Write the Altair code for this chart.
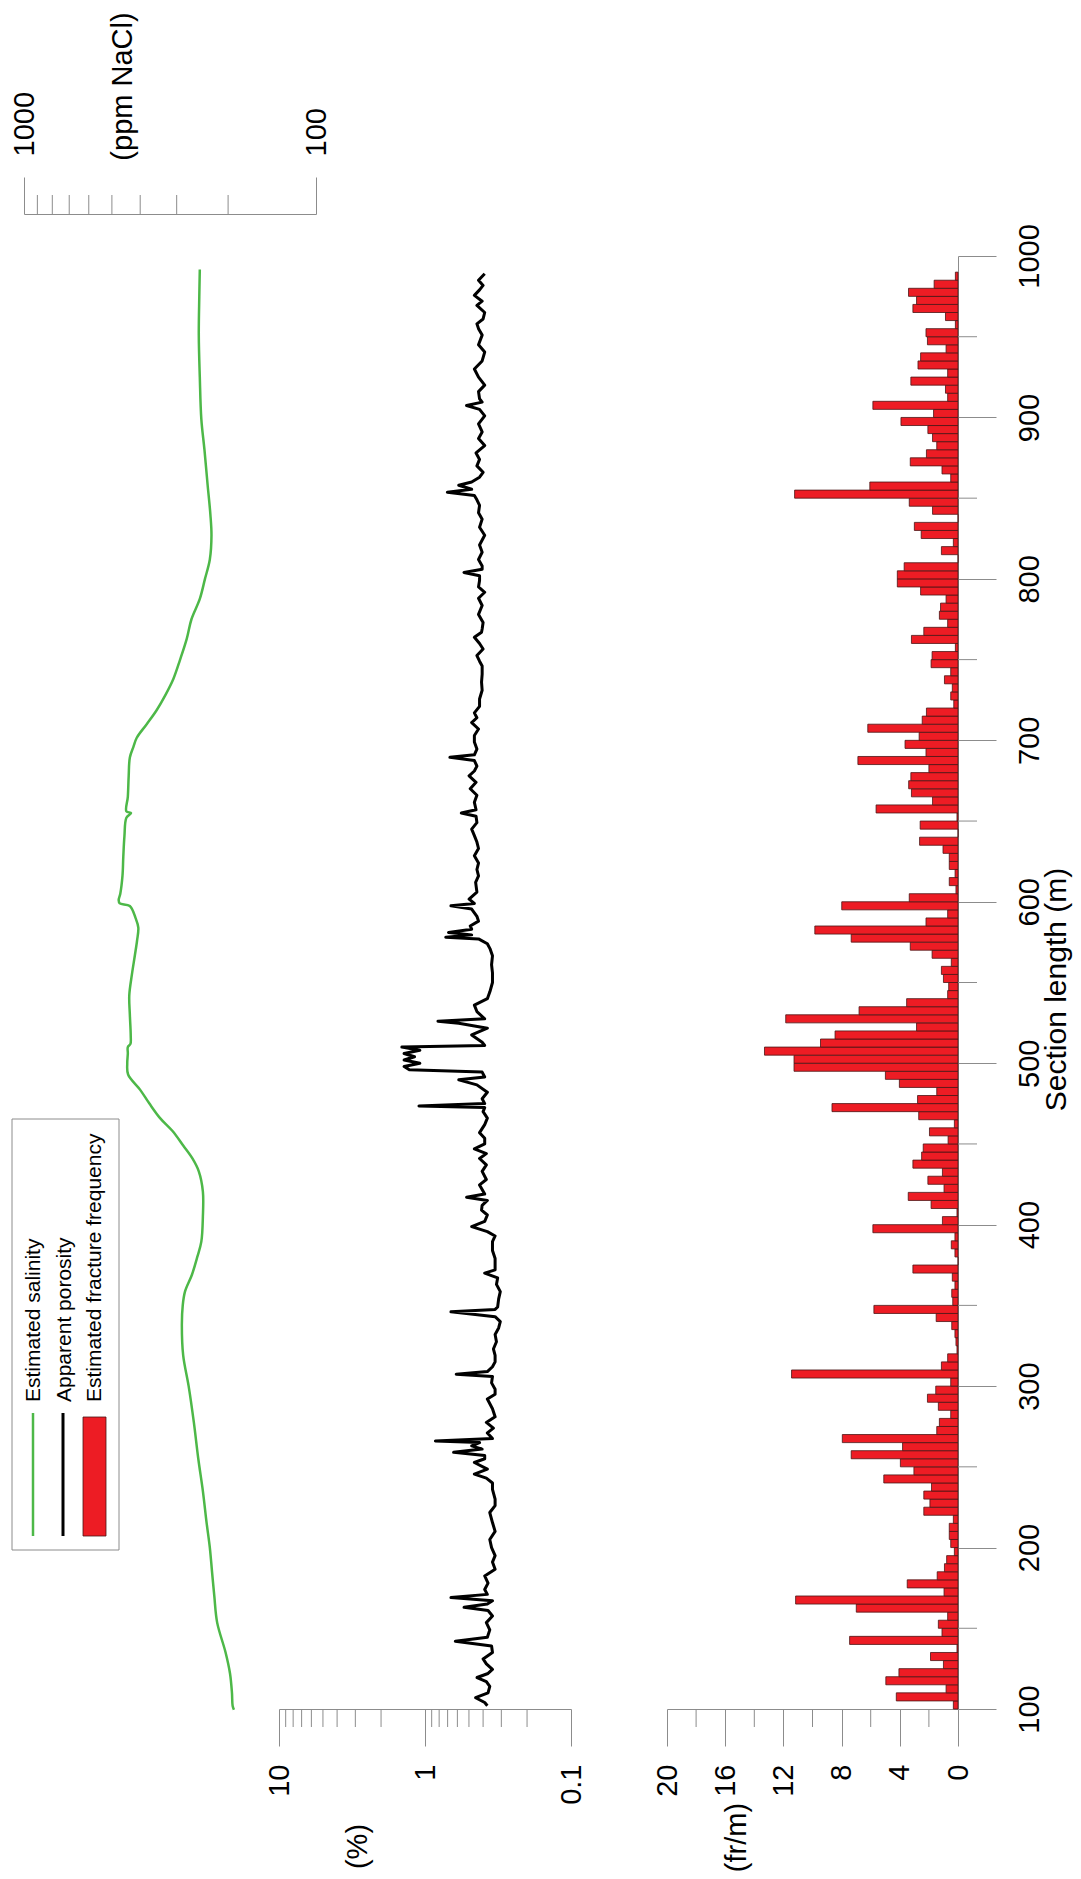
import altair as alt
import pandas as pd

# ---------------- data ----------------
# Estimated fracture frequency (fr/m), 5 m bins starting at 100 m
frac_bin_start = list(range(100, 990, 5))
frac_values = [
    0.32, 4.24, 0.82, 4.96, 4.06, 1.0, 1.89, 0.07, 7.45, 1.1, 1.35, 0.71, 6.99, 11.16, 0.96, 3.49, 1.43, 0.93, 0.78, 0.25,
    0.5, 0.6, 0.6, 0.32, 2.35, 1.93, 2.35, 1.82, 5.1, 3.03, 3.96, 7.34, 3.81, 7.95, 1.46, 1.28, 0.5, 1.35, 2.1, 1.53,
    0.5, 11.44, 1.14, 0.71, 0.07, 0.14, 0.21, 0.43, 1.5, 5.78, 0.36, 0.43, 0.21, 0.39, 3.1, 0.0, 0.21, 0.46, 0.21, 5.85,
    1.07, 0.07, 1.85, 3.42, 0.96, 2.07, 1.07, 3.1, 2.5, 2.39, 0.68, 1.96, 0.25, 2.7, 8.66, 2.78, 1.46, 4.03, 4.99, 11.27,
    11.27, 13.3, 9.45, 8.45, 2.85, 11.84, 6.8, 3.53, 0.71, 0.64, 1.0, 1.14, 0.46, 1.78, 3.28, 7.34, 9.84, 2.2, 0.71, 7.99,
    3.35, 0.14, 0.6, 0.2, 0.6, 0.6, 1.03, 2.64, 0.0, 2.6, 0.07, 5.63, 1.75, 3.2, 3.39, 3.24, 2.0, 6.88, 2.2, 3.64,
    2.67, 6.2, 2.46, 2.17, 0.29, 0.5, 0.39, 0.93, 0.5, 1.85, 1.78, 0.18, 3.2, 2.35, 0.71, 1.28, 1.2, 0.82, 2.57, 4.17,
    4.17, 3.7, 0.0, 1.14, 0.32, 2.53, 3.0, 0.0, 1.75, 3.35, 11.23, 6.06, 0.5, 1.1, 3.28, 2.17, 1.46, 1.75, 2.07, 3.92,
    1.68, 5.85, 0.71, 0.86, 3.24, 0.71, 2.75, 2.57, 0.82, 2.1, 2.2, 0.18, 0.86, 3.1, 2.85, 3.4, 1.64, 0.18,
]
frac_bin_width = 5

# Apparent porosity (%)
por_s = [102, 104, 107, 110, 114, 117, 119.5, 122, 124.5, 128, 131, 135, 139, 142, 144.5, 149, 153.5, 157.6, 161, 163,
         165, 167, 169, 171, 174, 178, 182.4, 186.6, 191, 195, 200, 205, 210, 215.5, 221.7, 226, 230, 236, 240, 243,
         245.5, 248.6, 252.7, 255, 257, 259, 261, 263, 265, 266, 267.5, 271, 274, 277.5, 281, 286, 292, 295, 298, 302,
         306, 307.4, 309, 312, 315, 319, 323, 327.5, 332, 336, 340, 343, 346, 347.5, 349, 354, 358.5, 363, 367, 370,
         372, 379, 384, 389.5, 393, 395.7, 398.8, 402, 406, 409, 412, 415, 417, 419, 424.6, 428, 433, 437, 441, 444,
         447, 450, 453.5, 457, 462, 466, 470, 472.5, 473.5, 475, 478, 482, 486.6, 489.7, 491.5, 494.5, 496, 498, 500, 502,
         504, 506, 508, 510, 511, 513, 517.5, 521.7, 524.8, 526, 527.5, 532, 536, 540, 544.4, 550, 556, 561, 566.5, 571,
         574, 577, 578, 579.5, 581, 583, 585, 588, 591, 595.5, 597.5, 599, 601.6, 606, 612, 616, 620, 624, 628.5, 633,
         637, 641, 645, 649, 653, 655, 657, 661.6, 666, 670, 674, 678, 681, 684, 687.5, 689.5, 691, 694.6, 699, 703,
         707, 711, 714, 717, 721, 725.6, 731, 736, 741, 746, 749, 752.5, 756.6, 760, 763.8, 767, 769, 773, 778, 783.5,
         788, 791.7, 795, 799, 802, 804, 806, 808, 812, 816.5, 821, 827, 832, 837, 841, 845.5, 849, 851.7, 853.7, 855.5,
         858, 860, 863, 866, 870, 874, 878, 882.6, 887, 891, 896, 901, 905, 907.4, 909.5, 911.6, 916, 920, 925, 930,
         935, 940.5, 945, 951, 955, 958, 961, 965, 969.4, 972, 975.6, 979, 981.8, 985, 989]
por_v = [0.374, 0.39, 0.45, 0.37, 0.36, 0.38, 0.44, 0.37, 0.345, 0.38, 0.40, 0.345, 0.35, 0.62, 0.374, 0.36, 0.38, 0.345, 0.37, 0.54,
         0.374, 0.345, 0.664, 0.374, 0.39, 0.37, 0.39, 0.331, 0.345, 0.331, 0.35, 0.36, 0.331, 0.345, 0.36, 0.331, 0.331, 0.345, 0.345, 0.38,
         0.459, 0.374, 0.459, 0.39, 0.39, 0.637, 0.406, 0.479, 0.423, 0.849, 0.345, 0.374, 0.34, 0.38, 0.331, 0.345, 0.374, 0.331, 0.331, 0.35,
         0.345, 0.611, 0.374, 0.345, 0.331, 0.331, 0.34, 0.324, 0.331, 0.313, 0.305, 0.331, 0.664, 0.331, 0.318, 0.313, 0.305, 0.324, 0.318, 0.39,
         0.331, 0.331, 0.345, 0.345, 0.331, 0.374, 0.479, 0.39, 0.374, 0.41, 0.406, 0.374, 0.519, 0.39, 0.423, 0.38, 0.406, 0.38, 0.423, 0.38,
         0.459, 0.39, 0.39, 0.423, 0.39, 0.374, 0.40, 0.39, 1.10, 0.39, 0.406, 0.374, 0.441, 0.587, 0.39, 0.406, 1.28, 1.39, 1.085, 1.39,
         1.18, 1.39, 1.085, 1.44, 0.39, 0.406, 0.479, 0.374, 0.587, 0.815, 0.39, 0.441, 0.459, 0.374, 0.359, 0.345, 0.345, 0.35, 0.345, 0.359,
         0.374, 0.43, 0.721, 0.479, 0.69, 0.479, 0.49, 0.43, 0.441, 0.479, 0.664, 0.459, 0.499, 0.441, 0.45, 0.43, 0.441, 0.43, 0.459, 0.43,
         0.441, 0.459, 0.479, 0.441, 0.447, 0.564, 0.447, 0.459, 0.441, 0.49, 0.447, 0.499, 0.459, 0.441, 0.459, 0.675, 0.459, 0.441, 0.459, 0.459,
         0.43, 0.479, 0.441, 0.459, 0.423, 0.423, 0.406, 0.41, 0.406, 0.406, 0.423, 0.441, 0.40, 0.423, 0.459, 0.41, 0.406, 0.40, 0.43, 0.406,
         0.43, 0.39, 0.43, 0.423, 0.423, 0.541, 0.406, 0.406, 0.43, 0.406, 0.423, 0.39, 0.423, 0.406, 0.43, 0.423, 0.441, 0.459, 0.703, 0.479,
         0.587, 0.479, 0.423, 0.40, 0.441, 0.423, 0.447, 0.39, 0.43, 0.406, 0.43, 0.39, 0.423, 0.519, 0.406, 0.423, 0.43, 0.39, 0.43, 0.459,
         0.406, 0.39, 0.43, 0.406, 0.43, 0.441, 0.40, 0.39, 0.441, 0.406, 0.459, 0.423, 0.40, 0.43, 0.39]

# Estimated salinity (ppm NaCl)
sal_s = [99.5, 102, 110, 122, 135, 153.5, 170, 185, 200, 215.5, 235, 255, 277.5, 300, 319, 338, 350, 358.5, 369, 380,
         389.5, 405, 420.5, 433, 441, 449, 458, 466, 475, 483.5, 493, 500, 506, 510, 512, 517, 530, 542, 555, 567,
         576, 584, 590, 597.4, 599, 601, 605, 616, 628, 640.5, 652, 655, 656, 665, 678, 689.4, 696, 701.6, 710, 718.8,
         728, 738, 750, 763, 775, 787.6, 800, 812, 827, 840, 858, 880, 899, 925, 951, 975, 991.7]
sal_v = [191, 193, 194, 197, 204, 218, 223, 227, 231, 237, 244, 253, 262, 273, 285, 288, 286, 281, 266, 255,
         247, 244, 244, 252, 265, 285, 310, 342, 372, 400, 440, 443, 441, 441, 432, 431, 434, 436, 427, 417,
         410, 406, 415, 434, 470, 474, 468, 460, 457, 453, 446, 430, 446, 441, 438, 434, 422, 411, 380, 351,
         328, 308, 292, 277, 267, 250, 240, 231, 228, 230, 235, 241, 247, 250, 252, 251, 250]

# axis ticks
sec_major = [100, 200, 300, 400, 500, 600, 700, 800, 900, 1000]
sec_minor = [150, 250, 350, 450, 550, 650, 750, 850, 950]
frac_major = [0, 4, 8, 12, 16, 20]
frac_minor = [2, 6, 10, 14, 18]
por_major = [0.1, 1, 10]
por_minor = [0.2, 0.3, 0.4, 0.5, 0.6, 0.7, 0.8, 0.9, 2, 3, 4, 5, 6, 7, 8, 9]
sal_major = [100, 1000]
sal_minor = [200, 300, 400, 500, 600, 700, 800, 900]

legend_labels = ["Estimated salinity", "Apparent porosity", "Estimated fracture frequency"]

# ---------------- styling ----------------
W, H = 934, 1453
GRAY = "#8c8c8c"
GREEN = "#4DB848"
RED = "#ED1C24"
FONT = "Liberation Sans"

frac_df = pd.DataFrame({"s0": frac_bin_start,
                        "s1": [b + frac_bin_width for b in frac_bin_start],
                        "f": frac_values})
por_df = pd.DataFrame({"s": por_s, "p": por_v})
sal_df = pd.DataFrame({"s": sal_s, "c": sal_v})

sec_scale = alt.Scale(domain=[100, 1000], nice=False, zero=False)
sec_axis = alt.Axis(orient="right", values=sec_major, tickSize=38, labelAngle=270,
                    labelAlign="center", labelBaseline="top", labelPadding=19,
                    labelFontSize=29, format="d", labelFlush=False, labelOverlap=False,
                    grid=False, title="Section length (m)", titleAngle=270, titleX=107,
                    titleY=733, titleAlign="center", titleBaseline="alphabetic",
                    titleFontSize=30, titleFontWeight="normal")


def Y(field):
    return alt.Y(field, type="quantitative", scale=sec_scale, axis=sec_axis)


# fracture frequency
frac_scale = alt.Scale(domain=[0, 20], range=[934, 643], nice=False, zero=False)
frac_axis = alt.Axis(orient="bottom", values=frac_major, tickSize=37, labelAngle=270,
                     labelAlign="right", labelBaseline="middle", labelPadding=18,
                     labelFontSize=29, format="d", labelFlush=False, labelOverlap=False,
                     grid=False, title="(fr/m)", titleAngle=270, titleX=721, titleY=128,
                     titleAlign="center", titleBaseline="alphabetic", titleFontSize=29,
                     titleFontWeight="normal")
bars = alt.Chart(frac_df).mark_rect(fill=RED, stroke="#4a1515", strokeWidth=0.8).encode(
    x=alt.X("f:Q", scale=frac_scale, axis=frac_axis),
    x2=alt.X2(datum=0),
    y=Y("s0"),
    y2=alt.Y2("s1"),
)
frac_minor_rules = alt.Chart(pd.DataFrame({"t": frac_minor})).mark_rule(color=GRAY, strokeWidth=1).encode(
    x=alt.X("t:Q", scale=frac_scale, axis=frac_axis),
    y=alt.value(H), y2=alt.value(H + 18),
)
frac_group = alt.layer(bars, frac_minor_rules)

# porosity
por_scale = alt.Scale(type="log", domain=[0.1, 10], range=[547, 255], nice=False)
por_axis = alt.Axis(orient="bottom", values=por_major, tickSize=37, labelAngle=270,
                    labelAlign="right", labelBaseline="middle", labelPadding=18,
                    labelFontSize=29, format="~g", labelFlush=False, labelOverlap=False,
                    grid=False, title="(%)", titleAngle=270, titleX=342, titleY=137,
                    titleAlign="center", titleBaseline="alphabetic", titleFontSize=29,
                    titleFontWeight="normal")
por_line = alt.Chart(por_df).mark_line(color="black", strokeWidth=3, strokeJoin="round").encode(
    x=alt.X("p:Q", scale=por_scale, axis=por_axis),
    y=Y("s"),
    order="s:Q",
)
por_minor_rules = alt.Chart(pd.DataFrame({"t": por_minor})).mark_rule(color=GRAY, strokeWidth=1).encode(
    x=alt.X("t:Q", scale=por_scale, axis=por_axis),
    y=alt.value(H), y2=alt.value(H + 18),
)
por_group = alt.layer(por_line, por_minor_rules)

# salinity
sal_scale = alt.Scale(type="log", domain=[100, 1000], range=[292, 0], nice=False)
sal_axis = alt.Axis(orient="top", offset=42, values=sal_major, tickSize=37, labelAngle=270,
                    labelAlign="left", labelBaseline="middle", labelPadding=21,
                    labelFontSize=29, format="d", labelFlush=False, labelOverlap=False,
                    grid=False, title="(ppm NaCl)", titleAngle=270, titleX=107, titleY=-128,
                    titleAlign="center", titleBaseline="alphabetic", titleFontSize=29,
                    titleFontWeight="normal")
sal_line = alt.Chart(sal_df).mark_line(color=GREEN, strokeWidth=2.5, interpolate="catmull-rom").encode(
    x=alt.X("c:Q", scale=sal_scale, axis=sal_axis),
    y=Y("s"),
    order="s:Q",
)
sal_minor_rules = alt.Chart(pd.DataFrame({"t": sal_minor})).mark_rule(color=GRAY, strokeWidth=1).encode(
    x=alt.X("t:Q", scale=sal_scale, axis=sal_axis),
    y=alt.value(-42), y2=alt.value(-61),
)
sal_group = alt.layer(sal_line, sal_minor_rules)

# section-length minor ticks
sec_minor_rules = alt.Chart(pd.DataFrame({"m": sec_minor})).mark_rule(color=GRAY, strokeWidth=1).encode(
    y=Y("m"), x=alt.value(W), x2=alt.value(W + 19),
)

# legend (drawn with marks, rotated like the rest of the figure)
one = pd.DataFrame({"k": [0]})
legend_box = alt.Chart(one).mark_rect(fill="white", stroke=GRAY, strokeWidth=1).encode(
    x=alt.value(-12), x2=alt.value(95), y=alt.value(863), y2=alt.value(1294))
leg_green = alt.Chart(one).mark_rule(color=GREEN, strokeWidth=2.5).encode(
    x=alt.value(9), y=alt.value(1157), y2=alt.value(1280))
leg_black = alt.Chart(one).mark_rule(color="black", strokeWidth=3).encode(
    x=alt.value(39), y=alt.value(1157), y2=alt.value(1280))
leg_red = alt.Chart(one).mark_rect(fill=RED, stroke="#4a1515", strokeWidth=0.8).encode(
    x=alt.value(59), x2=alt.value(82), y=alt.value(1161), y2=alt.value(1280))
leg_texts = []
for lab, xpos in zip(legend_labels, [16, 47, 77]):
    leg_texts.append(
        alt.Chart(pd.DataFrame({"label": [lab]})).mark_text(
            angle=270, align="left", baseline="alphabetic", fontSize=21, font=FONT, color="black"
        ).encode(text="label:N", x=alt.value(xpos), y=alt.value(1146))
    )

chart = alt.layer(
    legend_box, sal_group, por_group, frac_group, sec_minor_rules,
    leg_green, leg_black, leg_red, *leg_texts,
).resolve_scale(x="independent").properties(
    width=W, height=H,
    padding={"left": 16, "top": 248, "right": 115, "bottom": 162},
    autosize=alt.AutoSizeParams(type="none"),
).configure_view(stroke=None).configure_axis(
    domainColor=GRAY, tickColor=GRAY, domainWidth=1, tickWidth=1,
    labelColor="black", titleColor="black", labelFont=FONT, titleFont=FONT,
)

chart.save("out.html", embed_options={"renderer": "svg", "actions": False})
